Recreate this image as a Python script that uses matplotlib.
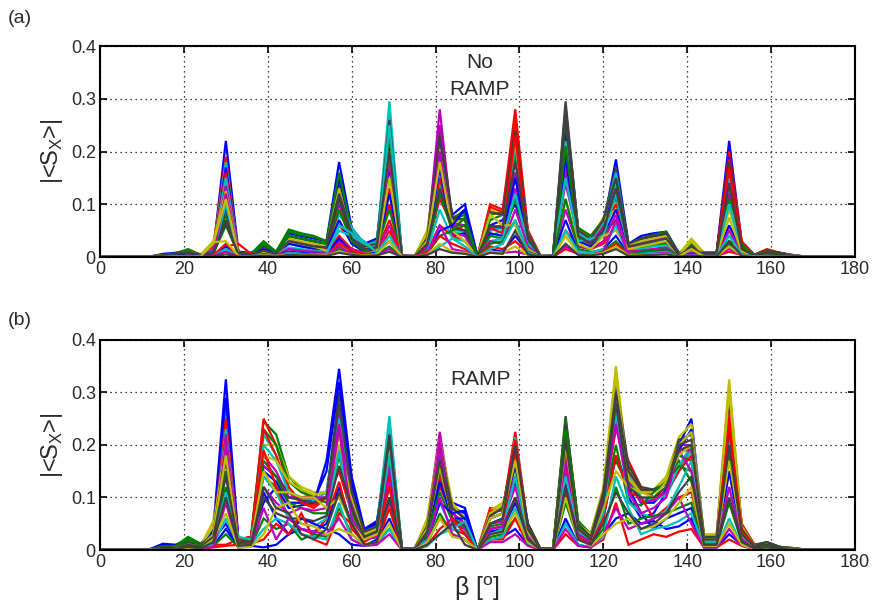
import numpy as np
import matplotlib
matplotlib.use("Agg")
import matplotlib.pyplot as plt

# beta grid, degrees
beta = list(range(0, 181, 3))

# |<S_X>| values, in units of 1e-3
# ---- (a) No RAMP ----
a_b1 = [0,0,0,0,1,6,8,12,5,12, 220,10,8,20,10,45,40,35,30,180, 55,25,35,210,3,2,40,200,80,100,
        2,60,70,120,40,2,3,270,50,35, 60,185,25,40,45,48,8,20,8,8, 220,25,5,12,8,4,1,0,0,0,0]
a_g1 = [0,0,0,0,1,4,7,15,4,10, 80,8,6,30,10,52,45,40,30,120, 40,20,30,190,2,2,30,150,70,80,
        2,70,80,160,45,2,2,230,55,40, 70,110,20,35,40,45,6,25,8,8, 30,20,4,14,8,3,1,0,0,0,0]
a_r1 = [0,0,0,0,0,3,5,10,4,20, 190,8,6,20,8,30,25,20,15,60, 30,15,20,100,2,2,20,110,60,50,
        2,100,90,280,50,2,2,160,40,30, 60,120,15,30,35,40,6,15,8,8, 200,30,4,15,8,4,1,0,0,0,0]
a_c1 = [0,0,0,0,0,2,4,8,3,15, 180,6,5,15,8,25,20,18,20,80, 50,20,25,295,2,1,15,140,50,40,
        1,40,50,240,40,1,2,180,45,30, 65,140,20,25,30,35,5,15,6,6, 130,15,3,10,6,3,1,0,0,0,0]
a_m1 = [0,0,0,0,0,2,4,8,3,12, 150,6,5,12,6,30,25,20,15,100, 35,15,20,150,2,1,30,280,60,60,
        1,50,60,130,30,1,2,140,35,25, 50,130,15,25,30,35,5,12,6,6, 120,12,3,8,5,2,1,0,0,0,0]
a_y1 = [0,0,0,0,1,3,5,10,4,30, 130,8,6,15,8,35,30,25,20,90, 30,15,25,150,2,1,50,220,70,70,
        1,90,80,200,45,1,2,250,50,35, 75,100,25,30,35,40,5,35,8,8, 90,20,4,10,6,3,1,0,0,0,0]
a_k1 = [0,0,0,0,0,3,6,10,4,10, 70,8,6,20,8,40,35,30,25,140, 45,20,25,240,2,1,35,250,75,70,
        1,85,80,200,45,1,2,295,50,35, 70,170,25,35,40,45,6,20,8,8, 160,20,4,12,8,3,1,0,0,0,0]
a_b4 = [0,0,0,0,1,4,6,10,4,10, 170,8,6,18,8,40,35,30,25,150, 45,20,28,170,2,1,30,230,70,90,
        1,55,60,100,35,1,2,240,45,30, 55,160,20,35,40,42,6,18,7,7, 190,20,4,10,6,3,1,0,0,0,0]
a_g4 = [0,0,0,0,1,4,6,12,4,10, 110,8,6,25,10,48,42,38,30,160, 50,20,30,230,2,2,35,190,75,85,
        2,80,85,190,50,2,2,280,55,40, 70,150,22,35,42,48,6,25,8,8, 110,20,4,12,7,3,1,0,0,0,0]
a_r4 = [0,0,0,0,0,3,5,10,4,18, 160,8,6,18,8,30,25,20,15,90, 35,15,20,130,2,2,25,150,55,50,
        2,95,85,260,50,2,2,200,40,30, 55,100,15,28,32,38,5,15,7,7, 185,28,4,13,7,3,1,0,0,0,0]
a_c4 = [0,0,0,0,0,2,4,8,3,14, 150,6,5,15,8,28,24,20,22,110, 55,22,28,270,2,1,20,170,55,45,
        1,50,55,210,40,1,2,220,45,30, 65,160,20,25,30,35,5,15,6,6, 150,15,3,10,6,3,1,0,0,0,0]
a_m4 = [0,0,0,0,0,2,4,8,3,12, 135,6,5,12,6,32,27,22,18,120, 40,15,22,180,2,1,35,250,65,60,
        1,55,60,160,35,1,2,170,38,28, 55,120,18,28,32,38,5,14,6,6, 140,14,3,8,5,2,1,0,0,0,0]
a_y4 = [0,0,0,0,1,3,5,10,4,28, 125,8,6,15,8,35,30,25,22,130, 35,15,25,200,2,1,45,200,65,70,
        1,85,80,220,45,1,2,265,50,35, 70,90,22,30,35,40,5,30,8,8, 100,20,4,10,6,3,1,0,0,0,0]
a_k4 = [0,0,0,0,0,3,6,10,4,10, 90,8,6,20,8,40,35,30,25,120, 45,20,25,260,2,1,35,230,75,70,
        1,85,80,240,45,1,2,285,50,35, 70,150,25,35,40,45,6,20,8,8, 180,20,4,12,8,3,1,0,0,0,0]
a_b2 = [0,0,0,0,0,2,4,6,3,8, 100,5,4,15,6,25,20,15,12,70, 25,10,15,120,1,1,20,170,40,45,
        1,45,40,150,25,1,1,190,30,20, 40,90,12,20,25,28,4,10,5,5, 60,10,2,6,4,2,0,0,0,0,0]
a_g2 = [0,0,0,0,0,2,3,8,2,6, 60,5,4,25,8,40,35,30,25,90, 30,12,18,90,1,1,15,120,50,60,
        1,40,35,110,30,1,1,210,35,25, 45,70,10,18,22,25,4,12,5,5, 40,25,3,10,5,2,0,0,0,0,0]
a_r2 = [0,0,0,0,0,1,2,4,2,5, 20,25,6,10,5,15,12,10,8,40, 15,8,12,70,1,1,10,60,40,30,
        1,55,45,230,20,1,1,50,20,15, 25,60,10,12,15,18,3,8,4,4, 170,15,2,8,4,2,0,0,0,0,0]
a_c2 = [0,0,0,0,0,1,2,5,2,8, 100,4,3,10,5,18,15,12,10,50, 40,25,15,250,1,1,10,90,35,30,
        1,30,35,120,25,1,1,150,30,35, 40,120,15,15,20,22,3,10,4,4, 100,10,2,6,4,2,0,0,0,0,0]
a_m2 = [0,0,0,0,0,1,2,4,2,6, 120,4,3,8,4,15,12,10,8,30, 15,8,10,60,1,1,20,200,45,40,
        1,30,25,90,20,1,1,90,20,15, 30,80,10,12,15,18,3,8,4,4, 50,8,2,5,3,1,0,0,0,0,0]
a_y2 = [0,0,0,0,0,1,2,4,2,25, 110,4,3,8,4,30,25,20,12,20, 10,6,10,150,1,1,30,180,50,30,
        1,80,60,60,15,1,1,110,25,15, 40,50,15,20,25,30,3,30,4,4, 75,10,2,5,3,1,0,0,0,0,0]
a_k2 = [0,0,0,0,0,2,4,7,3,7, 65,5,4,12,6,30,25,20,18,110, 35,15,18,200,1,1,25,130,55,50,
        1,60,55,180,35,1,1,260,40,25, 50,130,20,25,30,35,4,15,6,6, 140,15,3,8,5,2,0,0,0,0,0]
a_b3 = [0,0,0,0,0,1,2,3,1,3, 20,3,2,5,3,10,8,6,5,35, 10,5,8,30,1,0,8,50,60,90,
        0,15,10,40,10,0,1,70,10,8, 15,40,5,8,10,12,2,5,2,2, 20,5,1,3,2,1,0,0,0,0,0]
a_g3 = [0,0,0,0,0,0,1,2,1,2, 10,2,2,4,2,8,6,5,4,15, 8,4,6,20,0,0,6,40,50,75,
        0,25,30,70,10,0,0,110,15,10, 12,30,5,10,12,15,2,4,2,2, 25,5,1,3,2,1,0,0,0,0,0]
a_r3 = [0,0,0,0,0,0,1,2,1,3, 25,2,2,3,2,6,5,4,4,25, 12,6,5,50,0,0,10,40,25,15,
        0,20,15,30,8,0,0,15,6,5, 8,25,3,5,6,8,1,3,2,2, 10,4,1,2,1,0,0,0,0,0,0]
a_c3 = [0,0,0,0,0,0,1,2,1,2, 15,2,2,4,2,8,6,5,5,60, 45,30,8,40,0,0,5,20,35,20,
        0,15,25,70,8,0,0,50,10,8, 15,60,4,6,8,10,1,4,2,2, 40,5,1,2,1,0,0,0,0,0,0]
a_m3 = [0,0,0,0,0,0,1,2,1,2, 10,2,1,3,2,6,5,4,3,20, 6,3,5,15,0,0,6,60,15,10,
        0,10,8,10,5,0,0,20,5,4, 10,70,3,5,6,8,1,3,1,1, 15,3,1,2,1,0,0,0,0,0,0]
a_y3 = [0,0,0,0,0,0,1,2,1,28, 30,2,1,3,2,5,4,3,3,10, 5,3,5,30,0,0,5,25,10,8,
        0,10,8,20,4,0,0,40,5,4, 8,20,3,4,5,6,1,15,1,1, 20,3,1,2,1,0,0,0,0,0,0]
a_k3 = [0,0,0,0,0,0,0,1,0,1, 5,1,1,2,1,4,3,3,2,8, 4,2,3,10,0,0,4,15,8,6,
        0,8,6,50,5,0,0,25,4,3, 6,15,2,3,4,5,1,2,1,1, 30,2,0,1,1,0,0,0,0,0,0]

# ---- (b) RAMP ----
b_b1 = [0,0,0,0,2,12,10,20,12,40, 325,20,25,90,120,80,85,90,170,345, 140,40,55,200,3,3,50,180,90,80,
        0,60,70,130,40,3,3,200,45,25, 100,340,100,60,70,110,200,250,25,25, 310,40,8,12,5,3,1,0,0,0,0]
b_g1 = [0,0,0,0,1,8,8,25,12,30, 150,20,25,245,220,140,115,100,90,200, 90,35,50,150,2,2,40,150,80,60,
        0,70,80,140,50,2,2,240,55,30, 110,170,120,110,115,130,170,130,20,20, 200,45,10,15,6,4,1,0,0,0,0]
b_r1 = [0,0,0,0,1,5,6,15,10,25, 275,15,20,250,200,120,90,80,100,150, 70,30,40,140,2,2,30,120,70,50,
        0,80,75,225,45,2,2,160,40,20, 90,230,170,120,100,110,150,200,20,20, 280,50,10,12,5,3,1,0,0,0,0]
b_c1 = [0,0,0,0,1,4,5,12,8,20, 265,10,15,220,180,110,100,95,110,280, 100,35,45,255,2,2,30,140,60,50,
        0,50,60,215,40,2,2,180,50,25, 90,300,150,100,95,105,150,190,20,20, 200,35,8,10,4,2,1,0,0,0,0]
b_m1 = [0,0,0,0,1,4,5,10,6,15, 240,10,15,180,150,100,100,105,110,260, 80,25,35,130,2,2,50,225,70,50,
        0,50,55,120,30,2,2,150,40,20, 110,270,140,90,95,110,200,200,15,15, 150,30,6,8,4,2,1,0,0,0,0]
b_y1 = [0,0,0,0,1,5,5,15,8,55, 220,15,20,200,200,140,120,110,110,220, 110,30,40,200,2,2,60,210,90,60,
        0,75,90,150,45,2,2,245,50,30, 120,350,140,115,115,140,215,240,30,30, 325,45,8,12,5,3,1,0,0,0,0]
b_k1 = [0,0,0,0,1,6,6,15,10,35, 170,15,20,160,140,110,100,95,100,300, 120,35,45,230,2,2,45,200,80,60,
        0,65,80,205,50,2,2,255,50,25, 110,320,160,120,115,125,210,220,25,25, 250,40,8,15,6,3,1,0,0,0,0]
b_b4 = [0,0,0,0,1,10,8,18,10,35, 290,18,22,150,130,90,90,95,150,320, 130,38,50,180,3,3,45,160,80,70,
        0,60,70,160,40,3,3,220,45,25, 100,320,130,90,90,115,190,230,25,25, 290,40,8,12,5,3,1,0,0,0,0]
b_g4 = [0,0,0,0,1,7,7,22,10,30, 200,18,22,230,200,130,110,100,100,240, 100,35,45,190,2,2,40,180,80,60,
        0,70,80,170,50,2,2,250,55,30, 110,250,130,110,115,130,180,170,20,20, 230,45,10,14,6,4,1,0,0,0,0]
b_r4 = [0,0,0,0,1,5,6,15,10,25, 250,15,20,230,180,110,90,85,100,200, 80,30,40,170,2,2,30,140,70,50,
        0,75,75,210,45,2,2,190,40,20, 95,260,150,115,100,110,150,180,20,20, 260,48,10,12,5,3,1,0,0,0,0]
b_c4 = [0,0,0,0,1,4,5,12,8,20, 230,10,15,200,170,110,100,95,110,250, 100,35,45,240,2,2,30,160,60,50,
        0,50,60,190,40,2,2,200,50,25, 95,280,140,100,95,105,160,200,20,20, 220,35,8,10,4,2,1,0,0,0,0]
b_m4 = [0,0,0,0,1,4,5,10,6,15, 220,10,15,160,140,100,100,100,100,240, 85,25,35,160,2,2,45,210,70,50,
        0,50,55,140,30,2,2,170,40,20, 105,250,130,90,95,110,190,190,15,15, 180,30,6,8,4,2,1,0,0,0,0]
b_y4 = [0,0,0,0,1,5,5,15,8,45, 200,15,20,180,170,130,115,105,110,200, 100,30,40,190,2,2,55,190,85,60,
        0,70,85,180,45,2,2,230,50,30, 115,330,135,110,110,135,200,225,28,28, 300,45,8,12,5,3,1,0,0,0,0]
b_k4 = [0,0,0,0,1,6,6,15,10,30, 190,15,20,140,120,100,95,90,100,280, 110,35,45,220,2,2,45,190,80,60,
        0,65,80,190,50,2,2,240,50,25, 110,300,150,115,115,125,200,210,25,25, 230,40,8,15,6,3,1,0,0,0,0]
b_b2 = [0,0,0,0,0,3,3,8,5,20, 50,8,10,110,60,30,40,35,50,120, 50,20,25,100,1,1,25,130,60,60,
        0,35,40,90,25,1,1,130,30,15, 60,180,120,70,40,60,70,80,10,10, 150,20,4,6,3,2,0,0,0,0,0]
b_g2 = [0,0,0,0,0,5,5,20,8,25, 120,12,15,170,140,90,80,70,70,180, 70,25,35,120,1,1,30,110,55,40,
        0,45,50,100,35,1,1,230,45,20, 80,200,90,85,110,130,160,150,15,15, 180,30,6,10,4,2,0,0,0,0,0]
b_r2 = [0,0,0,0,0,3,4,10,5,10, 10,20,25,190,120,60,40,30,60,130, 40,15,30,120,1,1,15,60,40,30,
        0,40,45,190,30,1,1,110,25,10, 60,180,110,100,60,80,100,110,15,15, 240,35,6,8,3,2,0,0,0,0,0]
b_c2 = [0,0,0,0,0,3,4,8,5,15, 110,25,20,140,110,60,50,45,60,190, 60,20,30,180,1,1,20,90,40,35,
        0,30,40,140,30,1,1,140,35,20, 70,260,90,70,60,75,120,170,15,15, 120,25,5,8,3,2,0,0,0,0,0]
b_m2 = [0,0,0,0,0,3,4,8,4,12, 200,10,12,120,90,70,80,75,80,230, 60,20,25,90,1,1,35,190,50,40,
        0,40,45,100,25,1,1,120,30,15, 90,240,110,70,80,100,190,150,10,10, 120,20,4,6,3,1,0,0,0,0,0]
b_y2 = [0,0,0,0,0,3,4,10,5,30, 180,10,12,150,110,110,100,100,80,100, 50,20,30,80,1,1,40,160,60,45,
        0,60,70,170,35,1,1,200,40,20, 80,150,120,110,100,130,180,200,20,20, 170,30,5,8,3,2,0,0,0,0,0]
b_k2 = [0,0,0,0,0,4,4,10,6,25, 140,12,15,100,70,60,60,55,65,160, 80,25,35,210,1,1,35,170,60,45,
        0,50,60,200,40,1,1,210,40,20, 90,280,120,100,100,120,190,200,20,20, 200,30,6,10,4,2,0,0,0,0,0]
b_b3 = [0,0,0,0,0,2,2,4,3,8, 40,5,8,5,10,30,60,50,40,30, 10,8,20,60,0,0,15,90,70,75,
        0,20,25,40,10,0,0,60,10,5, 30,60,70,50,55,40,45,60,5,5, 30,10,2,3,1,1,0,0,0,0,0]
b_g3 = [0,0,0,0,0,2,2,6,3,8, 30,5,8,60,40,50,20,30,25,80, 30,10,15,40,0,0,10,70,30,20,
        0,25,30,60,15,0,0,90,20,10, 40,120,50,60,65,70,80,90,8,8, 90,15,3,5,2,1,0,0,0,0,0]
b_r3 = [0,0,0,0,0,1,2,5,2,5, 8,10,12,20,50,30,70,20,10,70, 50,10,12,80,0,0,8,40,60,30,
        0,20,20,60,10,0,0,30,8,5, 20,90,10,20,30,25,35,40,5,5, 20,8,2,3,1,1,0,0,0,0,0]
b_c3 = [0,0,0,0,0,1,2,4,2,10, 60,8,10,40,60,50,30,25,20,90, 20,8,10,40,0,0,8,30,40,55,
        0,20,25,80,12,0,0,50,10,5, 25,140,80,30,40,45,55,70,5,5, 60,10,2,3,1,1,0,0,0,0,0]
b_m3 = [0,0,0,0,0,1,2,4,2,6, 90,5,6,80,20,60,40,35,30,60, 20,8,10,30,0,0,15,100,30,20,
        0,15,15,30,8,0,0,40,8,5, 30,80,40,50,60,70,100,50,5,5, 40,8,2,3,1,1,0,0,0,0,0]
b_y3 = [0,0,0,0,0,1,2,4,2,20, 70,5,6,30,80,90,50,45,30,40, 30,10,15,50,0,0,15,60,25,20,
        0,30,35,70,15,0,0,100,20,8, 30,50,60,40,45,60,90,120,8,8, 50,10,2,3,1,1,0,0,0,0,0]
b_k3 = [0,0,0,0,0,2,2,6,3,15, 100,8,10,120,80,70,30,20,40,110, 50,10,15,100,0,0,10,30,50,10,
        0,30,35,100,20,0,0,120,20,10, 50,110,70,40,50,70,110,140,10,10, 100,15,3,5,2,1,0,0,0,0,0]

series_a = [a_b1, a_g1, a_r1, a_c1, a_m1, a_y1, a_k1,
            a_b4, a_g4, a_r4, a_c4, a_m4, a_y4, a_k4,
            a_b2, a_g2, a_r2, a_c2, a_m2, a_y2, a_k2,
            a_b3, a_g3, a_r3, a_c3, a_m3, a_y3, a_k3]
series_b = [b_b1, b_g1, b_r1, b_c1, b_m1, b_y1, b_k1,
            b_b4, b_g4, b_r4, b_c4, b_m4, b_y4, b_k4,
            b_b2, b_g2, b_r2, b_c2, b_m2, b_y2, b_k2,
            b_b3, b_g3, b_r3, b_c3, b_m3, b_y3, b_k3]

# old matlab colour order
colors = [(0, 0, 1), (0, 0.5, 0), (1, 0, 0), (0, 0.75, 0.75),
          (0.75, 0, 0.75), (0.75, 0.75, 0), (0.25, 0.25, 0.25)]

plt.rcParams['font.family'] = ['Liberation Sans', 'DejaVu Sans']
txt = '#2a2a2a'

fig = plt.figure(figsize=(8.72, 6.04), dpi=100)
ax_a = fig.add_axes([0.1147, 0.5745, 0.8658, 0.3493])
ax_b = fig.add_axes([0.1147, 0.0894, 0.8658, 0.3477])

def draw(ax, series):
    for i, s in enumerate(series):
        ax.plot(beta, np.array(s) / 1000.0, color=colors[i % 7], lw=1.6,
                solid_joinstyle='miter')
    ax.set_xlim(0, 180)
    ax.set_ylim(0, 0.4)
    ax.set_xticks(range(0, 181, 20))
    ax.set_yticks([0, 0.1, 0.2, 0.3, 0.4])
    ax.set_yticklabels(['0', '0.1', '0.2', '0.3', '0.4'])
    ax.grid(True, color='k', linestyle=(0, (1, 3)), linewidth=0.9)
    ax.tick_params(direction='in', top=True, right=True, length=5, width=1.2,
                   labelsize=13, labelcolor=txt, pad=3)
    for sp in ax.spines.values():
        sp.set_linewidth(1.5)
    ax.set_ylabel(r'|<S$_\mathregular{X}$>|', fontsize=17, color=txt, labelpad=4)

draw(ax_a, series_a)
draw(ax_b, series_b)

ax_a.text(90.5, 0.368, 'No', ha='center', va='center', fontsize=15, color=txt)
ax_a.text(90.5, 0.318, 'RAMP', ha='center', va='center', fontsize=15, color=txt)
ax_b.text(90.6, 0.325, 'RAMP', ha='center', va='center', fontsize=15, color=txt)
ax_b.set_xlabel(r'$\mathregular{\beta}$ [$^\mathregular{o}$]', fontsize=18,
                color=txt, labelpad=2)

fig.text(0.009, 0.970, '(a)', fontsize=14, color=txt, va='center')
fig.text(0.009, 0.470, '(b)', fontsize=14, color=txt, va='center')

fig.savefig('out.png', dpi=100)
